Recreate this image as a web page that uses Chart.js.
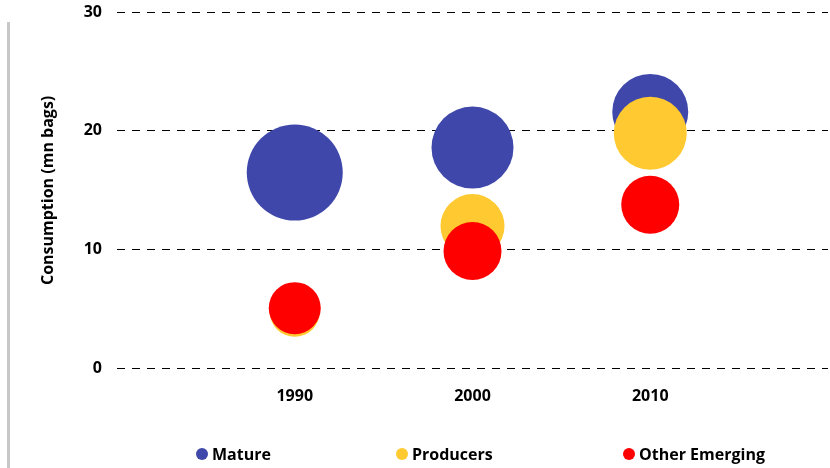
<!DOCTYPE html>
<html>
<head>
<meta charset="utf-8">
<script src="https://cdn.jsdelivr.net/npm/chart.js@4"></script>
<style>
    body { margin: 0; background: #fff; }
    #wrap { position: relative; width: 830px; height: 468px; }
    #sideBar { position: absolute; left: 7px; top: 22px; width: 3px; bottom: 0; background: #c8c8c8; }
    #legend { position: absolute; left: 0; top: 443px; width: 830px; font: bold 16px "Open Sans", sans-serif; color: #000; }
    .item { position: absolute; top: 0; display: flex; align-items: center; white-space: nowrap; }
    .dot { width: 12px; height: 12px; border-radius: 50%; margin-right: 4px; }
</style>
</head>
<body>
<div id="wrap">
    <div id="sideBar"></div>
    <canvas id="bubbleChart" width="830" height="468"></canvas>
    <div id="legend"></div>
</div>
<script>
const years = [1990, 2000, 2010];
const yearTicks = [1990, 2000, 2010];
const yTicks = [0, 10, 20, 30];

// consumption, mn bags
const mature = [16.5, 18.6, 21.6];
const producers = [4.8, 12.0, 19.8];
const otherEmerging = [5.1, 9.9, 13.8];

// bubble radius per point
const matureSize = [48, 41, 38];
const producersSize = [25, 32, 36.5];
const otherEmergingSize = [26, 29, 29];

function toPoints(values, sizes) {
    return values.map((v, i) => ({ x: years[i], y: v, r: sizes[i] }));
}

const series = [
    { label: 'Mature', data: toPoints(mature, matureSize), color: '#3f48aa', order: 2 },
    { label: 'Producers', data: toPoints(producers, producersSize), color: '#ffca31', order: 1 },
    { label: 'Other Emerging', data: toPoints(otherEmerging, otherEmergingSize), color: '#ff0000', order: 0 }
];

const font = { family: '"Open Sans", sans-serif', size: 16, weight: 'bold' };

const chart = new Chart(document.getElementById('bubbleChart').getContext('2d'), {
    type: 'bubble',
    data: {
        datasets: series.map(s => ({
            label: s.label,
            data: s.data,
            backgroundColor: s.color,
            borderWidth: 0,
            hoverBorderWidth: 0,
            order: s.order
        }))
    },
    options: {
        responsive: false,
        animation: false,
        layout: {
            autoPadding: false,
            padding: { left: 30, right: 2, top: 12, bottom: 44 }
        },
        plugins: {
            legend: { display: false },
            tooltip: { enabled: false }
        },
        scales: {
            x: {
                type: 'linear',
                min: 1980,
                max: 2020,
                afterBuildTicks: function(scale) {
                    scale.ticks = yearTicks.map(v => ({ value: v }));
                },
                grid: { display: false, drawTicks: false },
                border: { display: false },
                ticks: {
                    font: font,
                    color: '#000',
                    padding: 18,
                    maxRotation: 0,
                    callback: function(value) { return String(value); }
                }
            },
            y: {
                min: 0,
                max: 30,
                afterBuildTicks: function(scale) {
                    scale.ticks = yTicks.map(v => ({ value: v }));
                },
                afterFit: function(scale) {
                    scale.width = 87;
                },
                // gap between labels and dashed lines comes from invisible tick marks
                grid: {
                    color: '#000',
                    lineWidth: 1,
                    drawTicks: true,
                    tickLength: 15,
                    tickColor: 'rgba(0,0,0,0)'
                },
                border: { display: false, dash: [8, 7] },
                ticks: { font: font, color: '#000', padding: 0 },
                title: {
                    display: true,
                    text: 'Consumption (mn bags)',
                    font: font,
                    color: '#000',
                    padding: { top: 9, bottom: 0 }
                }
            }
        }
    }
});

// legend row under the chart, in dataset order
const legendLeft = [196, 396, 623];
const legendEl = document.getElementById('legend');
chart.data.datasets.forEach((ds, i) => {
    const item = document.createElement('div');
    item.className = 'item';
    item.style.left = legendLeft[i] + 'px';
    const dot = document.createElement('span');
    dot.className = 'dot';
    dot.style.background = ds.backgroundColor;
    const text = document.createElement('span');
    text.textContent = ds.label;
    item.appendChild(dot);
    item.appendChild(text);
    legendEl.appendChild(item);
});
</script>
</body>
</html>
